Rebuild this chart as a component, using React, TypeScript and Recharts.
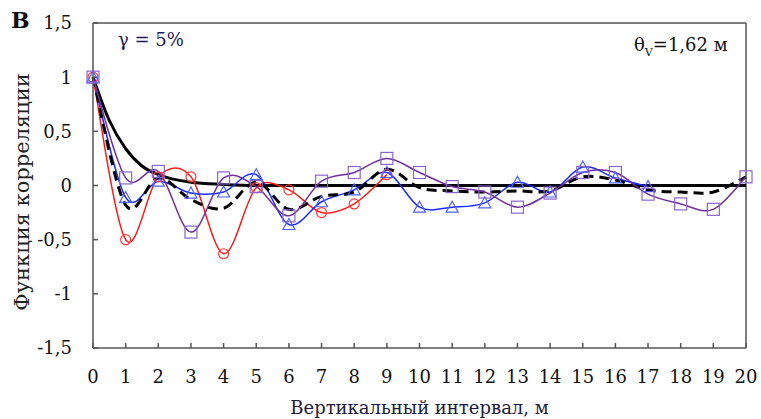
import React from 'react'
import { LineChart, Line, XAxis, YAxis, ReferenceLine } from 'recharts'

// lag, m
const LAGS = [0, 1, 2, 3, 4, 5, 6, 7, 8, 9, 10, 11, 12, 13, 14, 15, 16, 17, 18, 19, 20]
const X_TICKS = LAGS
const Y_TICKS = [-1.5, -1, -0.5, 0, 0.5, 1, 1.5]

const RED = [1, -0.5, 0.08, 0.08, -0.63, -0.02, -0.04, -0.25, -0.17, 0.1]
const BLUE = [1, -0.11, 0.04, -0.07, -0.06, 0.1, -0.36, -0.15, -0.04, 0.12, -0.2, -0.2, -0.16, 0.03, -0.06, 0.17, 0.07, -0.01]
const PURPLE = [1, 0.07, 0.13, -0.43, 0.07, -0.01, -0.28, 0.04, 0.12, 0.25, 0.12, -0.01, -0.06, -0.2, -0.07, 0.12, 0.12, -0.08, -0.17, -0.22, 0.08]
// mean (dashed)
const MEAN = [1, -0.18, 0.07, -0.13, -0.21, 0.03, -0.22, -0.1, -0.06, 0.15, -0.02, -0.05, -0.06, -0.05, -0.05, 0.08, 0.05, -0.04, -0.06, -0.06, 0.08]
// model (solid black)
const MODEL_LAGS = [0, 0.5, 1, 1.5, 2, 3, 4, 5, 6, 8, 10, 12, 14, 16, 18, 20]
const MODEL = [1, 0.6, 0.34, 0.18, 0.1, 0.03, 0.01, 0, 0, 0, 0, 0, 0, 0, 0, 0]

const toRows = (xs: number[], ys: number[]) => ys.map((v, i) => ({ x: xs[i], v }))

const redData = toRows(LAGS, RED)
const blueData = toRows(LAGS, BLUE)
const purpleData = toRows(LAGS, PURPLE)
const meanData = toRows(LAGS, MEAN)
const modelData = toRows(MODEL_LAGS, MODEL)

const FONT = '"DejaVu Serif", serif'
const AXIS = '#555'
const fmt = (v: number) => String(v).replace('.', ',')

// Excel-like smoothing (Catmull-Rom through the points)
function smooth(context: any) {
  let pts: number[][] = []
  return {
    areaStart() {},
    areaEnd() {},
    lineStart() { pts = [] },
    point(x: number, y: number) { pts.push([+x, +y]) },
    lineEnd() {
      const n = pts.length
      if (!n) return
      context.moveTo(pts[0][0], pts[0][1])
      for (let i = 0; i < n - 1; i++) {
        const p0 = pts[Math.max(i - 1, 0)]
        const p1 = pts[i]
        const p2 = pts[i + 1]
        const p3 = pts[Math.min(i + 2, n - 1)]
        context.bezierCurveTo(
          p1[0] + (p2[0] - p0[0]) / 6, p1[1] + (p2[1] - p0[1]) / 6,
          p2[0] - (p3[0] - p1[0]) / 6, p2[1] - (p3[1] - p1[1]) / 6,
          p2[0], p2[1],
        )
      }
    },
  }
}

function Triangle({ cx, cy, index }: any) {
  if (cx == null || cy == null) return null
  return (
    <polygon
      key={`t${index}`}
      points={`${cx},${cy - 6} ${cx - 6},${cy + 5} ${cx + 6},${cy + 5}`}
      fill="none"
      stroke="#5060ff"
      strokeWidth={1.2}
    />
  )
}

function Square({ cx, cy, index }: any) {
  if (cx == null || cy == null) return null
  return (
    <rect key={`s${index}`} x={cx - 6} y={cy - 6} width={12} height={12} fill="none" stroke="#8a66c8" strokeWidth={1.2} />
  )
}

export default function App() {
  return (
    <div style={{ position: 'absolute', left: 0, top: 0, width: 761, height: 419, background: '#fff', fontFamily: FONT }}>
      <LineChart width={761} height={419} margin={{ top: 23, right: 15, bottom: 21, left: 33 }}>
        <XAxis
          type="number"
          dataKey="x"
          domain={[0, 20]}
          ticks={X_TICKS}
          interval={0}
          allowDuplicatedCategory={false}
          stroke={AXIS}
          strokeWidth={1.5}
          tickSize={-5}
          tickMargin={27}
          height={50}
          tick={{ fontSize: 18, fill: '#111', fontFamily: FONT }}
        />
        <YAxis
          type="number"
          domain={[-1.5, 1.5]}
          ticks={Y_TICKS}
          interval={0}
          stroke={AXIS}
          strokeWidth={1.5}
          tickSize={-5}
          tickMargin={26}
          width={60}
          tickFormatter={fmt}
          tick={{ fontSize: 18, fill: '#111', fontFamily: FONT }}
        />
        <ReferenceLine y={1.5} stroke={AXIS} strokeWidth={1.5} />
        <ReferenceLine x={20} stroke={AXIS} strokeWidth={1.5} />

        <Line data={modelData} dataKey="v" type="monotone" stroke="#000" strokeWidth={3} dot={false} isAnimationActive={false} />
        <Line data={redData} dataKey="v" type={smooth as any} stroke="#ff1a1a" strokeWidth={1.5}
          dot={{ r: 5, fill: 'none', stroke: '#ff3a3a', strokeWidth: 1.2 }} isAnimationActive={false} />
        <Line data={blueData} dataKey="v" type={smooth as any} stroke="#1a2cff" strokeWidth={1.5}
          dot={(p: any) => <Triangle {...p} />} isAnimationActive={false} />
        <Line data={meanData} dataKey="v" type={smooth as any} stroke="#000" strokeWidth={3} strokeDasharray="10 6"
          dot={false} isAnimationActive={false} />
        <Line data={purpleData} dataKey="v" type={smooth as any} stroke="#7030a0" strokeWidth={1.5}
          dot={(p: any) => <Square {...p} />} isAnimationActive={false} />
      </LineChart>

      <div style={{ position: 'absolute', left: 11, top: 7, fontSize: 22, fontWeight: 'bold', color: '#111' }}>В</div>
      <div style={{ position: 'absolute', left: 118, top: 29, fontSize: 18, color: '#1c1c5c' }}>γ = 5%</div>
      <div style={{ position: 'absolute', left: 634, top: 34, fontSize: 18, color: '#111' }}>
        θ<sub style={{ fontSize: 11 }}>V</sub>=1,62 м
      </div>
      <div style={{ position: 'absolute', left: 93, width: 653, top: 397, textAlign: 'center', fontSize: 18, color: '#1c1c3c' }}>
        Вертикальный интервал, м
      </div>
      <div style={{
        position: 'absolute', left: 22, top: 192, width: 0, height: 0,
      }}>
        <div style={{
          position: 'absolute', transform: 'translate(-50%, -50%) rotate(-90deg)', whiteSpace: 'nowrap',
          fontSize: 21, color: '#222',
        }}>
          Функция корреляции
        </div>
      </div>
    </div>
  )
}
